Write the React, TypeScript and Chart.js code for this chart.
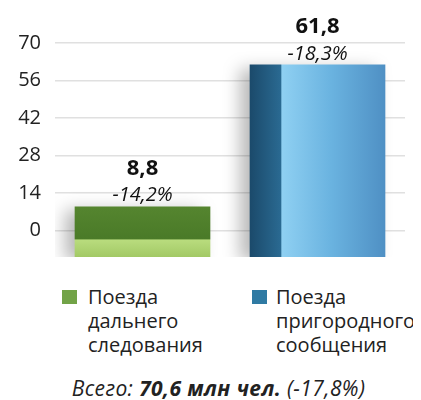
import React, { useEffect, useRef } from "react";
import { Chart, registerables } from "chart.js";

Chart.register(...registerables);

const categories = ["Поезда дальнего следования", "Поезда пригородного сообщения"];
const legendLines = [["Поезда", "дальнего", "следования"], ["Поезда", "пригородного", "сообщения"]];
const values = [8.8, 61.8];
const changes = [-14.2, -18.3];
const yTicks = [0, 14, 28, 42, 56, 70];
const totalLabel = "Всего:";
const totalValue = "70,6 млн чел.";
const totalChange = "(-17,8%)";

const legendColors = ["#72a347", "#2f7aa3"];
const FONT = "'Open Sans', 'Noto Sans', sans-serif";

const fmt = (v: number) => v.toFixed(1).replace(".", ",");

export default function App() {
  const ref = useRef<HTMLCanvasElement>(null);

  useEffect(() => {
    if (!ref.current) return;
    const barThickness = 135;

    const bg = (ctx: any) => {
      const chart = ctx.chart;
      const i = ctx.dataIndex;
      if (ctx.type !== "data" || !chart.chartArea) return legendColors[i ?? 0];
      const xs = chart.scales.x;
      const ys = chart.scales.y;
      const cx = xs.getPixelForValue(i);
      const top = ys.getPixelForValue(values[i]);
      const bottom = ys.getPixelForValue(ys.min);
      const c = chart.ctx as CanvasRenderingContext2D;
      if (i === 0) {
        const g = c.createLinearGradient(0, top, 0, bottom);
        const s = Math.min(0.95, Math.max(0.05, 33 / (bottom - top)));
        g.addColorStop(0, "#55852f");
        g.addColorStop(s - 0.01, "#4a7a28");
        g.addColorStop(s, "#b9dc7e");
        g.addColorStop(1, "#a2c965");
        return g;
      }
      const l = cx - barThickness / 2;
      const g = c.createLinearGradient(l, 0, l + barThickness, 0);
      g.addColorStop(0, "#1b4a6b");
      g.addColorStop(0.23, "#2a6a92");
      g.addColorStop(0.235, "#8fd0f2");
      g.addColorStop(0.6, "#6ab3e0");
      g.addColorStop(1, "#4f90c4");
      return g;
    };

    const labelPlugin = {
      id: "labels3d",
      beforeDatasetsDraw(chart: any) {
        const c = chart.ctx;
        c.save();
        c.shadowColor = "rgba(0,0,0,0.28)";
        c.shadowBlur = 16;
        c.shadowOffsetX = -10;
        c.shadowOffsetY = 4;
      },
      afterDatasetsDraw(chart: any) {
        const c = chart.ctx;
        c.restore();
        const meta = chart.getDatasetMeta(0);
        c.save();
        c.textAlign = "center";
        c.textBaseline = "middle";
        c.fillStyle = "#111";
        meta.data.forEach((bar: any, i: number) => {
          c.font = `bold 22px ${FONT}`;
          c.fillText(fmt(values[i]), bar.x, bar.y - 38);
          c.font = `italic 20px ${FONT}`;
          c.fillText(`${fmt(changes[i])}%`, bar.x, bar.y - 11);
        });
        c.restore();
      },
    };

    const chart = new Chart(ref.current, {
      type: "bar",
      data: {
        labels: categories,
        datasets: [
          {
            data: values,
            backgroundColor: bg,
            borderWidth: 0,
            barThickness,
            base: -10,
          } as any,
        ],
      },
      options: {
        animation: false,
        responsive: true,
        maintainAspectRatio: false,
        layout: { padding: { top: 35, right: 8, bottom: 1, left: 0 } },
        plugins: { legend: { display: false }, tooltip: { enabled: false } },
        scales: {
          x: { display: false },
          y: {
            min: -10,
            max: 70,
            bounds: "data",
            afterBuildTicks: (s: any) => {
              s.ticks = yTicks.map((v) => ({ value: v }));
            },
            afterFit: (s: any) => {
              s.width = 47;
              s.paddingTop = 0;
              s.paddingBottom = 0;
            },
            border: { display: false },
            grid: { color: "#e0e0e0", lineWidth: 1.5, drawTicks: false },
            ticks: {
              padding: 14,
              color: "#222",
              font: { family: FONT, size: 20 },
              callback: (v: any) => String(v),
            },
          },
        },
      },
      plugins: [labelPlugin],
    });
    return () => chart.destroy();
  }, []);

  const textStyle: React.CSSProperties = {
    position: "absolute",
    top: 0,
    fontFamily: FONT,
    fontSize: 20,
    lineHeight: "24px",
    whiteSpace: "nowrap",
    color: "#222",
  };

  return (
    <div style={{ width: 405 }}>
      <div style={{ position: "relative", width: 405, height: 250 }}>
        <canvas ref={ref} />
      </div>
      <div style={{ position: "relative", height: 72, marginTop: 27 }}>
        {legendLines.map((lines, i) => {
          const mx = i === 0 ? 54 : 244;
          const tx = i === 0 ? 80 : 268;
          return (
            <React.Fragment key={i}>
              <div
                style={{
                  position: "absolute",
                  left: mx,
                  top: 5,
                  width: 15,
                  height: 14,
                  background: legendColors[i],
                }}
              />
              <div style={{ ...textStyle, left: tx }}>
                {lines.map((ln, j) => (
                  <div key={j}>{ln}</div>
                ))}
              </div>
            </React.Fragment>
          );
        })}
      </div>
      <div
        style={{
          marginTop: 19,
          paddingLeft: 16,
          textAlign: "center",
          fontFamily: FONT,
          fontStyle: "italic",
          fontSize: 21,
          letterSpacing: "0.4px",
          lineHeight: "24px",
          whiteSpace: "nowrap",
          color: "#222",
        }}
      >
        {totalLabel} <b>{totalValue}</b> {totalChange}
      </div>
    </div>
  );
}
